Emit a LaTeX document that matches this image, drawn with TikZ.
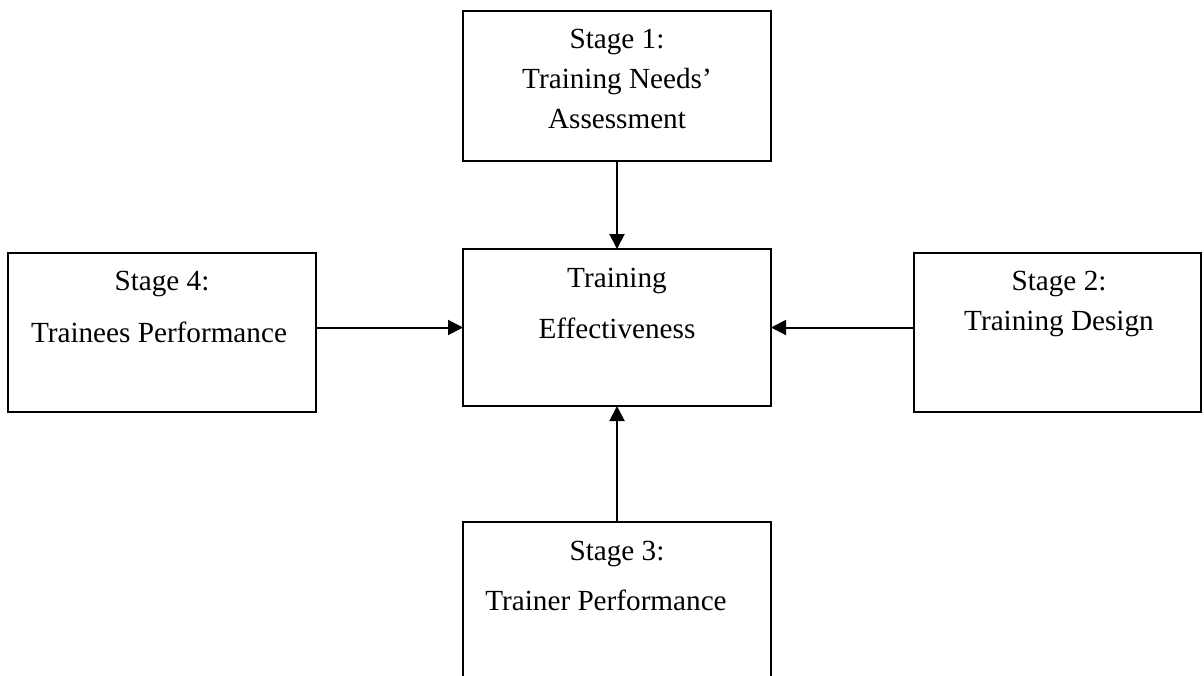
\documentclass[tikz,border=0pt]{standalone}
\usepackage{fontspec}
\setmainfont{Liberation Serif}
\usetikzlibrary{arrows.meta}
\tikzstyle{box}=[draw, line width=1pt, inner sep=0pt, outer sep=0pt]
\tikzstyle{txt}=[anchor=base, inner sep=0pt, font=\fontsize{14.6}{17}\selectfont]
\tikzstyle{arr}=[line width=1pt, -{Triangle[length=7.5pt,width=7.5pt]}]

\begin{document}
\begin{tikzpicture}[x=0.5pt, y=-0.5pt]
\useasboundingbox (0,0) rectangle (1204,675);
\clip (0,0) rectangle (1204,675);
% boxes: name/left/top/right/bottom
\foreach \n/\xa/\ya/\xb/\yb in {s1/463/11/771/161, eff/463/249/771/406, s4/8/253/316/412, s2/914/253/1201/412, s3/463/522/771/700} {
 \node[box, minimum width={(\xb-\xa)*0.5pt}, minimum height={(\yb-\ya)*0.5pt}] (\n) at ({(\xa+\xb)/2},{(\ya+\yb)/2}) {};
}
% texts
\node[txt] (s1a) at (617,48) {Stage 1:};
\node[txt] (s1b) at (617,88) {Training Needs’};
\node[txt] (s1c) at (617,128) {Assessment};
\node[txt] (effa) at (617,287) {Training};
\node[txt] (effb) at (617,338) {Effectiveness};
\node[txt] (s4a) at (162,290) {Stage 4:};
\node[txt] (s4b) at (159,342) {Trainees Performance};
\node[txt] (s2a) at (1059,290) {Stage 2:};
\node[txt] (s2b) at (1059,330) {Training Design};
\node[txt] (s3a) at (617,560) {Stage 3:};
\node[txt] (s3b) at (606,610) {Trainer Performance};
% arrows
\draw[arr] (s1) -- (eff);
\draw[arr] (s3) -- (eff);
\draw[arr] (s4.east |- eff.west) -- (eff.west);
\draw[arr] (s2.west |- eff.east) -- (eff.east);
\end{tikzpicture}
\end{document}
